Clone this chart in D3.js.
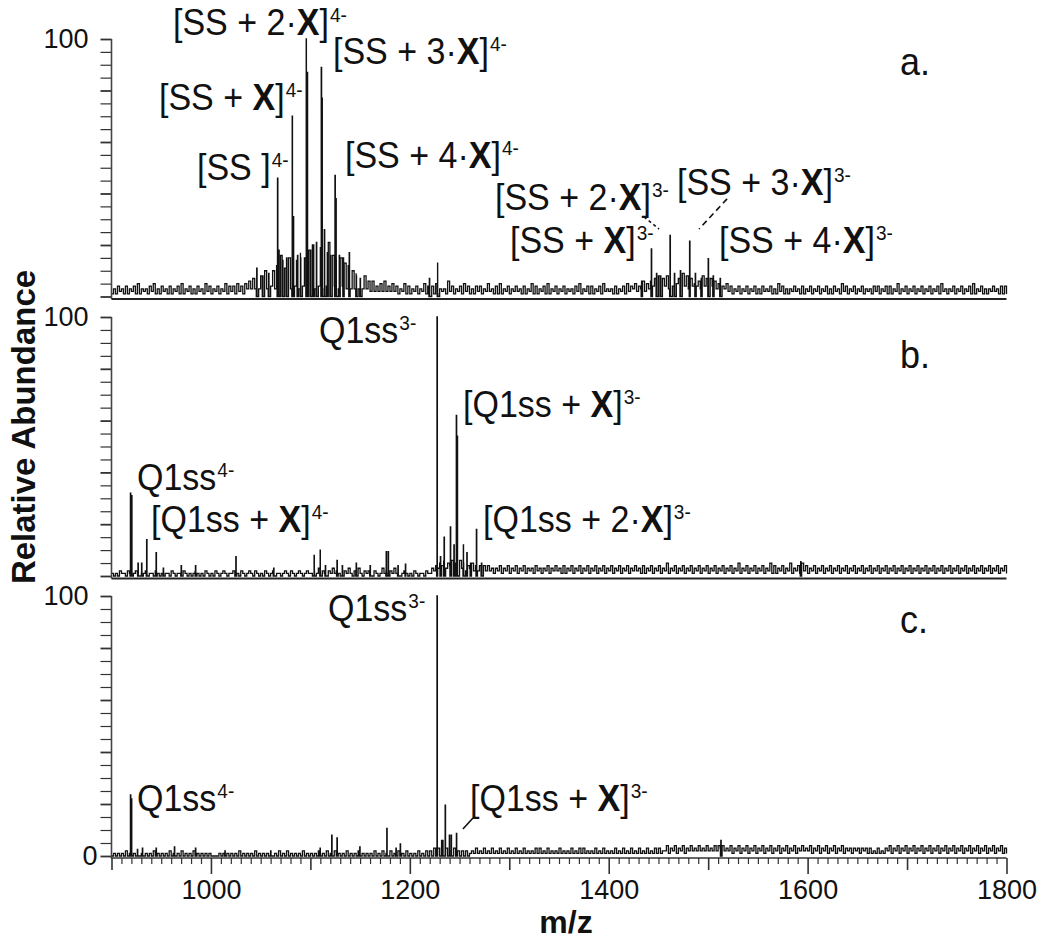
<!DOCTYPE html>
<html><head><meta charset="utf-8">
<script src="https://cdn.jsdelivr.net/npm/d3@7"></script>
<style>
body{margin:0;background:#fff}
text{font-family:"Liberation Sans",Arial,Helvetica,sans-serif;fill:#111}
</style>
</head><body>
<svg id="chart" width="1050" height="941"></svg>
<script>
// ---------------- DATA ----------------
const mzDomain = [900, 1800];
const yDomain = [0, 100];
const xTickLabels = [1000, 1200, 1400, 1600, 1800];
const noiseStart = 900, noiseStep = 2, noiseChunk = 20; // each string covers 20 m/z units, one char per 2 units (base-36 % abundance)

const noiseA = ["1314231413","2415132314","2513142314","1324151324","1314231524",
"1324132514","2415241536","3735384a36","4a3c4g3b4f","3g4e3h4f3i",
"4k3i4j3h4l","3g4e3f4d3c","3a39373836","2624252624","2524132514",
"1324132514","2415132316","2413241524","1314241325","2314151324",
"1324231413","2514132415","1324132413","2314251324","1413241523",
"2314132415","2435243625","3647583748","3846573948","3745463847",
"3746352435","2413241324","1324131423","2413152413","1324231413",
"2413241324","1314231524","1324132413","2314241324","1413251324",
"1324132413","2413241523","1324132413","2415132413","1324231414"];
const peaksA = [[1046,11],[1052,8],[1058,9],[1066.9,46],[1068.2,18],[1072,14],[1076,15],
[1081.7,70],[1082.8,31],[1087,16],[1090,15],[1095.8,100],[1096.8,87],[1100,18],[1103,20],
[1106,21],[1110.9,89],[1111.9,77],[1114,26],[1117,17],[1120,16],[1124.7,47],[1125.7,38],
[1129,16],[1133,15],[1139,17],[1146,8],[1150,7],[1219.6,7],[1227.9,13],[1433,6],
[1442.8,18.5],[1448,9],[1452,8],[1461.6,23.7],[1466,9],[1472,10],[1481.3,21.5],[1487,9],
[1493,7],[1500,14.7],[1505,8],[1512,7]];

const noiseB = ["1010211021","0121011201","1021012110","2101102101","0121010210",
"1021012101","1201021012","1021010210","1201101210","2101210121",
"1021312102","1312101213","1021310212","1021013121","2131201210",
"1021011021","1324354635","4635463524","3524243424","2313241324",
"1324132413","2314231324","1324231413","2413241324","1324132413",
"2413241324","1324231413","2413241325","1324132413","2413241324",
"1324132413","2413251324","1324132413","2514132413","2513241524",
"1324132413","2413241324","1324132413","2413241324","1324132413",
"2413241324","1324132413","2413241324","1324132413","2413241324"];
const peaksB = [[919,32],[920.2,31],[926.6,5],[930.2,5],[935.3,14],[944.8,9],[952,3],[970,4],
[984.4,4],[1025,7.5],[1063,3],[1103.7,8],[1109.8,10],[1115,4],[1126.7,6],[1132,4],[1146,5],
[1160,4],[1176.2,9.4],[1178.2,9.4],[1188,4],[1195.5,4.6],[1227.3,100],[1230.7,7.5],
[1234.4,15],[1240.7,19],[1244.3,12],[1246.7,62],[1247.6,54],[1253.8,12],[1257.3,9],
[1261,5],[1266.9,18],[1272,5],[1593,5.5]];

const noiseC = ["0101010201","0102010101","0201010102","0101020101","0201010101",
"0000101010","1010201010","1020101010","1010201020","1010102010",
"1010201020","1020101020","1010201010","1020102010","2010201020",
"1010201020","2030302030","2030202020","1213121312","1312131213",
"1213121312","1213131213","1212131212","1312131312","1213121312",
"1213121312","1312131213","1213131224","1324132413","2423242324",
"2324243423","2413241324","1324132413","2413241324","1324132423",
"2413241324","1324132413","2313231323","1312131213","2413241324",
"1324132413","2413241324","1324132413","2413241324","1324132413"];
const peaksC = [[919,23.5],[920,22],[926,2.5],[931,3],[944.8,3],[963.2,3.5],[984.4,3],
[1014,2],[1060,2],[1109.7,3],[1121.4,8],[1126.7,7],[1149.6,3.5],[1176.8,10.6],[1186,3],
[1190.3,4.7],[1227.3,100],[1231.9,6],[1233,6],[1235.5,19.6],[1239.7,8],[1241.5,8],
[1246.8,8.7],[1512.7,6]];

// annotation texts: {X} = bold X, ^ = superscript
const labelsA = ["[SS ]^4-","[SS + {X}]^4-","[SS + 2·{X}]^4-","[SS + 3·{X}]^4-","[SS + 4·{X}]^4-",
                 "[SS + 2·{X}]^3-","[SS + 3·{X}]^3-","[SS + {X}]^3-","[SS + 4·{X}]^3-"];
const labelsB = ["Q1ss^3-","[Q1ss + {X}]^3-","Q1ss^4-","[Q1ss + {X}]^4-","[Q1ss + 2·{X}]^3-"];
const labelsC = ["Q1ss^3-","Q1ss^4-","[Q1ss + {X}]^3-"];
// leader lines, in data units [m/z, %] -> [m/z, %]
const leadersA = [[[1435.5,30.9],[1450.6,26.2],"3,3"],[[1519,37.9],[1490.8,26.2],"6,4"]];
const leadersC = [[[1263.5,14.6],[1253.4,10.4],null]];

// ---------------- LAYOUT ----------------
const svg = d3.select("#chart");
svg.append("rect").attr("width",1050).attr("height",941).attr("fill","#fff");
const x = d3.scaleLinear().domain(mzDomain).range([111.5, 1006.5]);

const panels = [
  {noise:noiseA, peaks:peaksA, top:39, bottom:296.5, letter:"a.", letterPos:[900,75],
   labels:labelsA, labelPos:[[197,180],[159,110],[173,35],[333,64],[345,168],[495,210],[677,195],[510,253],[719,253]],
   leaders:leadersA, xaxis:false, zeroLabel:false},
  {noise:noiseB, peaks:peaksB, top:317, bottom:576, letter:"b.", letterPos:[900,368],
   labels:labelsB, labelPos:[[319,343],[463,417],[137,490],[151,532],[483,532]],
   leaders:[], xaxis:false, zeroLabel:false},
  {noise:noiseC, peaks:peaksC, top:596, bottom:856, letter:"c.", letterPos:[900,633],
   labels:labelsC, labelPos:[[328,621],[137,811],[470,811]],
   leaders:leadersC, xaxis:true, zeroLabel:true}
];

function spectrum(noise, peaks){
  const pts = [];
  noise.forEach((s,j)=>{
    for(let i=0;i<s.length;i++) pts.push([noiseStart + noiseChunk*j + noiseStep*i, parseInt(s[i],36)]);
  });
  peaks.forEach(([m,h])=>{ pts.push([m-0.4,0],[m,h],[m+0.4,0]); });
  pts.push([mzDomain[1], 1]);
  pts.sort((a,b)=>a[0]-b[0]);
  return pts.filter(p=>p[0]>=mzDomain[0] && p[0]<=mzDomain[1]);
}

function richLabel(g, px, py, str, size, sy){
  const t = g.append("text").attr("transform",`translate(${px},${py}) scale(1,${sy})`)
    .attr("font-size", size);
  const [main, sup] = str.split("^");
  main.split(/(\{X\})/).forEach(part=>{
    if(!part) return;
    if(part==="{X}") t.append("tspan").attr("font-weight","bold").text("X");
    else t.append("tspan").text(part);
  });
  if(sup) t.append("tspan").attr("font-size", size*0.56).attr("dy", -12).attr("dx",1).text(sup);
}

panels.forEach((p,k)=>{
  const y = d3.scaleLinear().domain(yDomain).range([p.bottom, p.top]);
  const g = svg.append("g");

  // spectrum trace
  const line = d3.line().x(d=>x(d[0])).y(d=>y(d[1])).curve(d3.curveStepAfter);
  g.append("path").datum(spectrum(p.noise, p.peaks))
    .attr("fill","none").attr("stroke","#111").attr("stroke-width",1.3)
    .attr("d", line);

  // y axis
  const yAxis = d3.axisLeft(y).tickValues(d3.range(0,101,5)).tickSize(11).tickPadding(12)
    .tickFormat(d => (d===100 || (d===0 && p.zeroLabel)) ? d3.format("d")(d) : "");
  const ya = g.append("g").attr("transform",`translate(${x(mzDomain[0])},0)`).call(yAxis);
  ya.select(".domain").remove();
  ya.selectAll(".tick line").attr("stroke","#333").attr("stroke-width",d=>d%20===0?1.8:1.2);
  ya.selectAll(".tick text").attr("font-size",27).attr("fill","#111")
    .attr("x", d=> d===0 ? -14 : -23);
  g.append("line").attr("x1",x(mzDomain[0])).attr("x2",x(mzDomain[0]))
    .attr("y1",y(100)).attr("y2",y(0)+2.5).attr("stroke","#444").attr("stroke-width",1.6);

  if(!p.xaxis){
    g.append("line").attr("x1",x(mzDomain[0])).attr("x2",x(mzDomain[1]))
      .attr("y1",y(0)+2.5).attr("y2",y(0)+2.5).attr("stroke","#222").attr("stroke-width",2.2);
  } else {
    const xa = g.append("g").attr("transform",`translate(0,${y(0)+2})`);
    xa.call(d3.axisBottom(x).tickValues(d3.range(900,1801,10)).tickSize(6).tickFormat(""));
    xa.selectAll(".tick line")
      .attr("y2", d => xTickLabels.includes(d) ? 16 : (d%100===0 ? 12 : 6))
      .attr("stroke","#333").attr("stroke-width", d=> d%100===0 ? 1.6 : 1.2);
    xa.select(".domain").attr("stroke","#333").attr("stroke-width",1.6).attr("d",`M${x(900)},0H${x(1800)}`);
    const xl = g.append("g").attr("transform",`translate(0,${y(0)+2})`)
      .call(d3.axisBottom(x).tickValues(xTickLabels).tickSize(0).tickPadding(0).tickFormat(d3.format("d")));
    xl.select(".domain").remove();
    xl.selectAll(".tick text").attr("font-size",27).attr("fill","#111").attr("dy",null).attr("y",41);
  }

  // annotations
  p.labels.forEach((s,i)=> richLabel(g, p.labelPos[i][0], p.labelPos[i][1], s, 34, 1.08));
  p.leaders.forEach(([a,b,dash])=>{
    const l = g.append("line").attr("x1",x(a[0])).attr("y1",y(a[1])).attr("x2",x(b[0])).attr("y2",y(b[1]))
      .attr("stroke","#111").attr("stroke-width",1.6);
    if(dash) l.attr("stroke-dasharray",dash);
  });
  // panel letter
  g.append("text").attr("transform",`translate(${p.letterPos[0]},${p.letterPos[1]}) scale(1,1.1)`)
    .attr("font-size",36).text(p.letter);
});

// axis titles
svg.append("text").attr("transform","translate(35,427) rotate(-90)").attr("text-anchor","middle")
  .attr("font-size",33).attr("font-weight","bold").text("Relative Abundance");
svg.append("text").attr("x",566).attr("y",933).attr("text-anchor","middle")
  .attr("font-size",32).attr("font-weight","bold").text("m/z");
</script>
</body></html>
